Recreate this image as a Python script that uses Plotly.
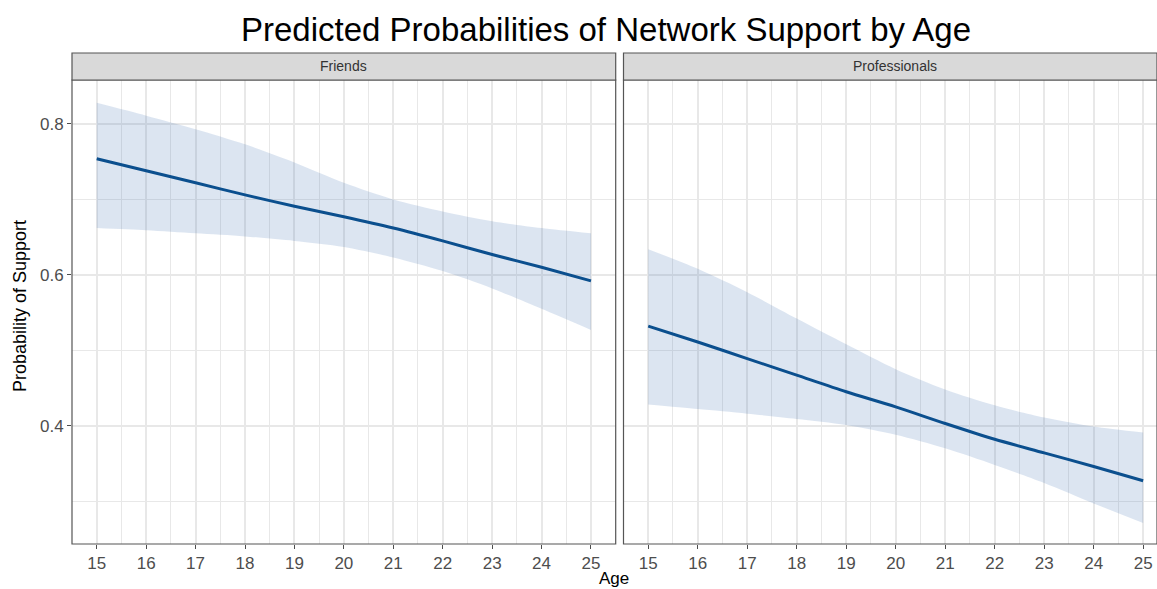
import plotly.graph_objects as go

W, H = 1157, 589

ages = [15, 16, 17, 18, 19, 20, 21, 22, 23, 24, 25]

friends_fit = [0.754, 0.738, 0.722, 0.706, 0.691, 0.677, 0.662, 0.645, 0.627, 0.610, 0.592]
friends_upper = [0.828, 0.811, 0.793, 0.773, 0.749, 0.722, 0.700, 0.684, 0.671, 0.662, 0.655]
friends_lower = [0.662, 0.659, 0.655, 0.651, 0.645, 0.637, 0.623, 0.605, 0.582, 0.555, 0.527]

prof_fit = [0.532, 0.511, 0.489, 0.467, 0.445, 0.425, 0.403, 0.382, 0.364, 0.346, 0.327]
prof_upper = [0.634, 0.608, 0.577, 0.542, 0.508, 0.475, 0.448, 0.427, 0.411, 0.399, 0.391]
prof_lower = [0.428, 0.422, 0.416, 0.409, 0.401, 0.388, 0.370, 0.348, 0.324, 0.297, 0.271]

panels = ["Friends", "Professionals"]
x_ticks = [15, 16, 17, 18, 19, 20, 21, 22, 23, 24, 25]
y_ticks = [0.4, 0.6, 0.8]
y_ticklabels = ["0.4", "0.6", "0.8"]

title = "Predicted Probabilities of Network Support by Age"
x_title = "Age"
y_title = "Probability of Support"

LINE = "#0B4F8E"
FILL = "rgba(60,110,175,0.18)"
GRID = "#E8E8E8"
FONT = "Liberation Sans, Arial, Helvetica, sans-serif"

fig = go.Figure()

series = [
    ("x", "y", friends_fit, friends_upper, friends_lower),
    ("x2", "y2", prof_fit, prof_upper, prof_lower),
]
for xa, ya, fit, up, lo in series:
    fig.add_trace(go.Scatter(
        x=ages, y=up, mode="lines",
        line=dict(width=0, shape="spline", smoothing=0.8, color="rgba(0,0,0,0)"),
        hoverinfo="skip", xaxis=xa, yaxis=ya, showlegend=False))
    fig.add_trace(go.Scatter(
        x=ages, y=lo, mode="lines", fill="tonexty", fillcolor=FILL,
        line=dict(width=0, shape="spline", smoothing=0.8, color="rgba(0,0,0,0)"),
        hoverinfo="skip", xaxis=xa, yaxis=ya, showlegend=False))
    fig.add_trace(go.Scatter(
        x=ages, y=fit, mode="lines",
        line=dict(color=LINE, width=3, shape="spline", smoothing=0.8),
        xaxis=xa, yaxis=ya, showlegend=False))

x1_dom = [72 / W, 615.7 / W]
x2_dom = [623.5 / W, 1.0]
y_dom = [45 / H, 509 / H]
y_range = [0.2432, 0.8583]

common_x = dict(
    tickmode="array", tickvals=x_ticks, ticktext=[str(t) for t in x_ticks],
    ticks="outside", ticklen=4, tickwidth=1, tickcolor="#4D4D4D",
    tickfont=dict(size=17, color="#4D4D4D", family=FONT),
    showgrid=True, gridcolor=GRID, gridwidth=1.5,
    minor=dict(tickmode="array", tickvals=[a + 0.5 for a in x_ticks[:-1]] + [14.5, 25.5],
               showgrid=True, gridcolor=GRID, gridwidth=0.8, ticks=""),
    zeroline=False, showline=False, fixedrange=True,
)
common_y = dict(
    range=y_range, domain=y_dom,
    showgrid=True, gridcolor=GRID, gridwidth=1.5,
    minor=dict(tickmode="array", tickvals=[0.3, 0.5, 0.7], showgrid=True,
               gridcolor=GRID, gridwidth=0.8, ticks=""),
    zeroline=False, showline=False, fixedrange=True,
)

fig.update_layout(
    width=W, height=H,
    margin=dict(l=0, r=0, t=0, b=0),
    paper_bgcolor="white", plot_bgcolor="white",
    font=dict(family=FONT),
    xaxis=dict(domain=x1_dom, range=[14.5, 25.5], anchor="y", **common_x),
    xaxis2=dict(domain=x2_dom, range=[14.5, 25.28], anchor="y2", **common_x),
    yaxis=dict(anchor="x", tickmode="array", tickvals=y_ticks, ticktext=y_ticklabels,
               ticks="outside", ticklen=4, tickwidth=1, tickcolor="#4D4D4D",
               tickfont=dict(size=17, color="#4D4D4D", family=FONT), **common_y),
    yaxis2=dict(anchor="x2", tickmode="array", tickvals=y_ticks, showticklabels=False,
                ticks="", matches="y", **common_y),
)

strip_bottom = 509 / H
strip_top = (H - 53) / H
shapes = []
for xa, ya in [("x", "y"), ("x2", "y2")]:
    shapes.append(dict(type="rect", xref=f"{xa} domain", yref=f"{ya} domain",
                       x0=0, x1=1, y0=0, y1=1, line=dict(color="#555555", width=1.2),
                       fillcolor="rgba(0,0,0,0)", layer="above"))
    shapes.append(dict(type="rect", xref=f"{xa} domain", yref="paper",
                       x0=0, x1=1, y0=strip_bottom, y1=strip_top,
                       line=dict(color="#555555", width=1.2), fillcolor="#D9D9D9",
                       layer="above"))
fig.update_layout(shapes=shapes)

annotations = []
for i, (xa, name) in enumerate(zip(["x", "x2"], panels)):
    dom = x1_dom if i == 0 else [x2_dom[0], x2_dom[0] + (x1_dom[1] - x1_dom[0])]
    annotations.append(dict(text=name, xref="paper", yref="paper",
                            x=(dom[0] + dom[1]) / 2, y=(strip_bottom + strip_top) / 2,
                            xanchor="center", yanchor="middle", showarrow=False,
                            font=dict(size=14, color="#333333", family=FONT)))
annotations.append(dict(text=title, xref="paper", yref="paper", x=606 / W, y=(H - 29) / H,
                        xanchor="center", yanchor="middle", showarrow=False,
                        font=dict(size=33, color="black", family=FONT)))
annotations.append(dict(text=y_title, xref="paper", yref="paper", x=20 / W, y=(H - 306) / H,
                        xanchor="center", yanchor="middle", textangle=-90, showarrow=False,
                        font=dict(size=18, color="black", family=FONT)))
annotations.append(dict(text=x_title, xref="paper", yref="paper", x=614 / W, y=(H - 578) / H,
                        xanchor="center", yanchor="middle", showarrow=False,
                        font=dict(size=17, color="black", family=FONT)))
fig.update_layout(annotations=annotations)

fig.write_html("out.html")
